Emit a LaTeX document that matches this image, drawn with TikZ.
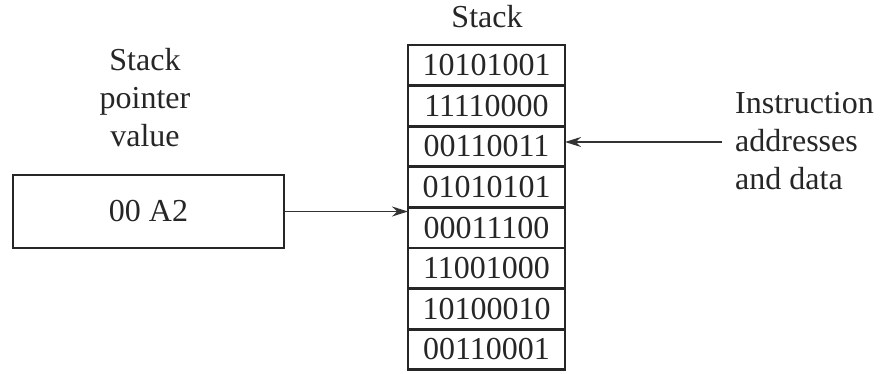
\documentclass[tikz,border=0pt]{standalone}
\usepackage{fontspec}
\setmainfont{Liberation Serif}
\usetikzlibrary{arrows.meta,positioning}
\begin{document}
\begin{tikzpicture}[x=1pt,y=-1pt,
  txt/.style={font=\fontsize{32}{38}\selectfont, inner sep=0pt, text=black!85},
  cell/.style={txt, draw=black!85, line width=2.8pt, minimum width=157pt, minimum height=40.6pt, outer sep=0pt},
  regbox/.style={txt, draw=black!85, line width=2.8pt, minimum width=271pt, minimum height=73pt},
  arr/.style={draw=black!80, line width=1.8pt, -{Stealth[length=16pt,width=10pt]}}]
\useasboundingbox (0,0) rectangle (880,373);
% stack memory cells
\node[cell] (c1) at (486.5,65.3) {10101001};
\node[cell, below=0pt of c1] (c2) {11110000};
\node[cell, below=0pt of c2] (c3) {00110011};
\node[cell, below=0pt of c3] (c4) {01010101};
\node[cell, below=0pt of c4] (c5) {00011100};
\node[cell, below=0pt of c5] (c6) {11001000};
\node[cell, below=0pt of c6] (c7) {10100010};
\node[cell, below=0pt of c7] (c8) {00110001};
\node[txt] (title) at (487,17) {Stack};
% stack pointer register
\node[regbox] (sp) at (148.5,211.5) {00 A2};
\node[txt, align=center] (splbl) at (145,98) {Stack\\pointer\\value};
\draw[arr] (sp.east) -- (sp.east -| c4.west);
% incoming data
\node[txt, align=left, anchor=west] (inlbl) at (735,141) {Instruction\\addresses\\and data};
\coordinate (src) at (722,142);
\draw[arr] (src) -- (src -| c3.east);
\end{tikzpicture}
\end{document}
